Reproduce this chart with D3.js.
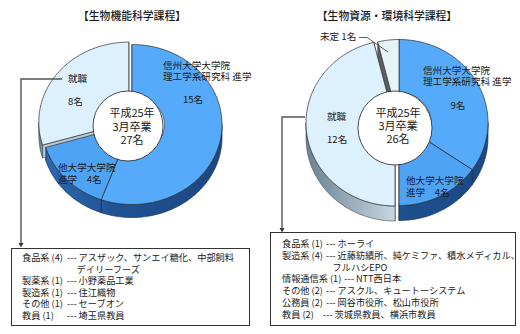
<!DOCTYPE html>
<html>
<head>
<meta charset="utf-8">
<style>
  body { margin: 0; background: #fff; }
  svg text { font-family: "Noto Sans CJK JP", "Noto Sans", sans-serif; fill: #1a1a1a; }
</style>
</head>
<body>
<div id="chart"></div>
<script src="https://cdn.jsdelivr.net/npm/d3@7"></script>
<script>

// ---- data ----
var courseTitles = ["【生物機能科学課程】", "【生物資源・環境科学課程】"];
var graduates = [27, 26];
var yearLines = ["平成25年", "3月卒業"];

var leftCategories = ["信州大学大学院", "他大学大学院", "就職"];
var leftCounts = [15, 4, 8];

var rightCategories = ["信州大学大学院", "他大学大学院", "就職", "未定"];
var rightCounts = [9, 4, 12, 1];

var leftJobs = [
  ["食品系 (4)", "アスザック、サンエイ糖化、中部飼料"],
  ["", "デイリーフーズ"],
  ["製薬系 (1)", "小野薬品工業"],
  ["製造系 (1)", "住江織物"],
  ["その他 (1)", "セーブオン"],
  ["教員 (1)", "埼玉県教員"]
];
var rightJobs = [
  ["食品系 (1)", "ホーライ"],
  ["製造系 (4)", "近藤紡績所、純ケミファ、積水メディカル、"],
  ["", "フルハシEPO"],
  ["情報通信系 (1)", "NTT西日本"],
  ["その他 (2)", "アスクル、キュートーシステム"],
  ["公務員 (2)", "岡谷市役所、松山市役所"],
  ["教員 (2)", "茨城県教員、横浜市教員"]
];

// ---- look ----
var W = 520, H = 334;
var topColor = d3.scaleOrdinal()
  .domain(["信州大学大学院", "他大学大学院", "就職", "未定"])
  .range(["#55aafc", "#4fa3f5", "#dcf0fd", "#e6f4f7"]);
var faceColor = d3.scaleOrdinal()
  .domain(["信州大学大学院", "他大学大学院", "就職", "未定"])
  .range(["#2a5d9e", "#2a5d9e", "#b7cad7", "#5a5f62"]);

var svg = d3.select("#chart").append("svg").attr("width", W).attr("height", H);
var defs = svg.append("defs");

// pie layouts (positions kept here, not in the data)
var charts = [
  {
    title: courseTitles[0], cats: leftCategories, values: leftCounts, total: graduates[0],
    cx: 132, cy: 124.5, rx: 90, ry: 80, depth: 13,
    hole: {cx: 128, cy: 126, r: 35},
    explode: {"就職": 4},
    titleX: 132, centerX: 132, centerY: [113, 127, 140],
    labels: function (v) {
      return [
        {t: "信州大学大学院", x: 163, y: 66},
        {t: "理工学系研究科 進学", x: 163, y: 77},
        {t: v[0] + "名", x: 193, y: 100, a: "middle"},
        {t: "他大学大学院", x: 58, y: 168},
        {t: "進学　" + v[1] + "名", x: 58, y: 180},
        {t: "就職", x: 68, y: 79},
        {t: v[2] + "名", x: 68, y: 102}
      ];
    },
    callout: [[62, 79], [21, 79], [21, 243]],
    box: {x: 11, y: 248, w: 238, h: 77, tx: 22, ty: 258, lh: 11.5, col: 67},
    jobs: leftJobs
  },
  {
    title: courseTitles[1], cats: rightCategories, values: rightCounts, total: graduates[1],
    cx: 399, cy: 122.5, rx: 89, ry: 83, depth: 15,
    hole: {cx: 395, cy: 128, r: 37},
    explode: {"就職": 4},
    titleX: 387, centerX: 398, centerY: [113, 126, 139],
    labels: function (v) {
      return [
        {t: "信州大学大学院", x: 423, y: 71},
        {t: "理工学系研究科 進学", x: 423, y: 82},
        {t: v[0] + "名", x: 458, y: 106, a: "middle"},
        {t: "他大学大学院", x: 406, y: 181},
        {t: "進学　" + v[1] + "名", x: 406, y: 193},
        {t: "就職", x: 327, y: 117},
        {t: v[2] + "名", x: 327, y: 140},
        {t: "未定 " + v[3] + "名", x: 320, y: 37}
      ];
    },
    leader: [[359, 37.5], [367, 37.5], [388, 52]],
    callout: [[305, 117], [282, 117], [282, 228]],
    box: {x: 270, y: 232, w: 245, h: 93, tx: 282, ty: 244, lh: 11.7, col: 323},
    jobs: rightJobs
  }
];

var line = d3.line();

function arcPts(c, a0, a1, rx, ry, ox, oy, dy) {
  var n = Math.max(2, Math.ceil(Math.abs(a1 - a0) / 0.02));
  return d3.range(n + 1).map(function (i) {
    var a = a0 + (a1 - a0) * i / n;
    return [c.cx + ox + rx * Math.sin(a), c.cy + oy - ry * Math.cos(a) + (dy || 0)];
  });
}

charts.forEach(function (c, ci) {
  var g = svg.append("g");

  // side gradients
  var gBlue = defs.append("linearGradient").attr("id", "blueSide" + ci)
    .attr("gradientUnits", "userSpaceOnUse")
    .attr("x1", c.cx - c.rx).attr("x2", c.cx + c.rx).attr("y1", 0).attr("y2", 0);
  gBlue.append("stop").attr("offset", 0).attr("stop-color", "#2d68b0");
  gBlue.append("stop").attr("offset", 0.45).attr("stop-color", "#1f5190");
  gBlue.append("stop").attr("offset", 1).attr("stop-color", "#1c4884");
  var gLight = defs.append("linearGradient").attr("id", "lightSide" + ci)
    .attr("gradientUnits", "userSpaceOnUse")
    .attr("x1", c.cx - c.rx).attr("x2", c.cx).attr("y1", 0).attr("y2", 0);
  gLight.append("stop").attr("offset", 0).attr("stop-color", "#6d8595");
  gLight.append("stop").attr("offset", 1).attr("stop-color", "#cddbe5");

  var arcs = d3.pie().sort(null)(c.values);
  arcs.forEach(function (d, i) {
    var cat = c.cats[i];
    var mid = (d.startAngle + d.endAngle) / 2;
    var e = c.explode[cat] || 0;
    d.cat = cat;
    d.ox = e * Math.sin(mid);
    d.oy = -e * Math.cos(mid);
  });

  var rin = 0.36;
  // radial end faces
  arcs.forEach(function (d) {
    [d.startAngle, d.endAngle].forEach(function (a) {
      var pin = arcPts(c, a, a, c.rx * rin, c.ry * rin, d.ox, d.oy)[0];
      var pout = arcPts(c, a, a, c.rx, c.ry, d.ox, d.oy)[0];
      g.append("path")
        .attr("d", line([pin, pout, [pout[0], pout[1] + c.depth], [pin[0], pin[1] + c.depth]]) + "Z")
        .attr("fill", faceColor(d.cat))
        .attr("stroke", "#333").attr("stroke-width", 0.5);
    });
  });

  // outer curved sides (front half only)
  arcs.forEach(function (d) {
    var s = Math.max(d.startAngle, Math.PI / 2), e = Math.min(d.endAngle, 3 * Math.PI / 2);
    if (s >= e) return;
    var pts = arcPts(c, s, e, c.rx, c.ry, d.ox, d.oy)
      .concat(arcPts(c, e, s, c.rx, c.ry, d.ox, d.oy, c.depth));
    var light = d.cat === "就職" || d.cat === "未定";
    g.append("path")
      .attr("d", line(pts) + "Z")
      .attr("fill", light ? "url(#lightSide" + ci + ")" : "url(#blueSide" + ci + ")")
      .attr("stroke", light ? "#4d5d68" : "#14335c").attr("stroke-width", 0.7);
  });

  // top faces
  arcs.forEach(function (d) {
    var pts = arcPts(c, d.startAngle, d.endAngle, c.rx, c.ry, d.ox, d.oy)
      .concat(arcPts(c, d.endAngle, d.startAngle, c.rx * rin, c.ry * rin, d.ox, d.oy));
    g.append("path")
      .attr("d", line(pts) + "Z")
      .attr("fill", topColor(d.cat))
      .attr("stroke", "#2b2b2b").attr("stroke-width", 0.7);
  });

  // hole
  g.append("circle")
    .attr("cx", c.hole.cx).attr("cy", c.hole.cy).attr("r", c.hole.r)
    .attr("fill", "#fff").attr("stroke", "#222").attr("stroke-width", 0.8);

  g.selectAll(".ctr")
    .data(yearLines.concat([c.total + "名"]))
    .enter().append("text")
    .attr("x", c.centerX).attr("y", function (t, i) { return c.centerY[i]; })
    .attr("dy", "0.36em").attr("text-anchor", "middle")
    .style("font-size", "11px")
    .text(function (t) { return t; });

  // title
  svg.append("text")
    .attr("x", c.titleX).attr("y", 16).attr("dy", "0.36em")
    .attr("text-anchor", "middle")
    .style("font-size", "10.8px").style("font-weight", "500")
    .text(c.title);

  // slice labels
  g.selectAll(".lbl")
    .data(c.labels(c.values))
    .enter().append("text")
    .attr("x", function (l) { return l.x; })
    .attr("y", function (l) { return l.y; })
    .attr("dy", "0.36em")
    .attr("text-anchor", function (l) { return l.a || "start"; })
    .style("font-size", "9.6px")
    .text(function (l) { return l.t; });

  if (c.leader) {
    svg.append("path").attr("d", line(c.leader))
      .attr("fill", "none").attr("stroke", "#333").attr("stroke-width", 0.8);
  }

  // callout line with arrow
  svg.append("path").attr("d", line(c.callout))
    .attr("fill", "none").attr("stroke", "#555").attr("stroke-width", 1.4);
  var tip = c.callout[c.callout.length - 1];
  svg.append("path")
    .attr("d", line([[tip[0] - 2.5, tip[1]], [tip[0] + 2.5, tip[1]], [tip[0], tip[1] + 4.5]]) + "Z")
    .attr("fill", "#333");

  // job box
  var b = c.box;
  svg.append("rect")
    .attr("x", b.x + 0.5).attr("y", b.y + 0.5).attr("width", b.w).attr("height", b.h)
    .attr("fill", "#fff").attr("stroke", "#333").attr("stroke-width", 1);

  var probe = svg.append("text").style("font-size", "9.2px").text("--- ");
  var dashW = probe.node().getComputedTextLength();
  probe.remove();

  c.jobs.forEach(function (row, i) {
    var y = b.ty + i * b.lh;
    var t = svg.append("text").attr("y", y).attr("dy", "0.36em").style("font-size", "9.2px");
    if (row[0]) {
      var p = t.append("tspan").attr("x", b.tx).text(row[0]);
      var pw = p.node().getComputedTextLength();
      t.append("tspan").attr("x", Math.max(b.col, b.tx + pw + 3)).text("--- " + row[1]);
    } else {
      t.append("tspan").attr("x", b.col + dashW).text(row[1]);
    }
  });
});

</script>
</body>
</html>
